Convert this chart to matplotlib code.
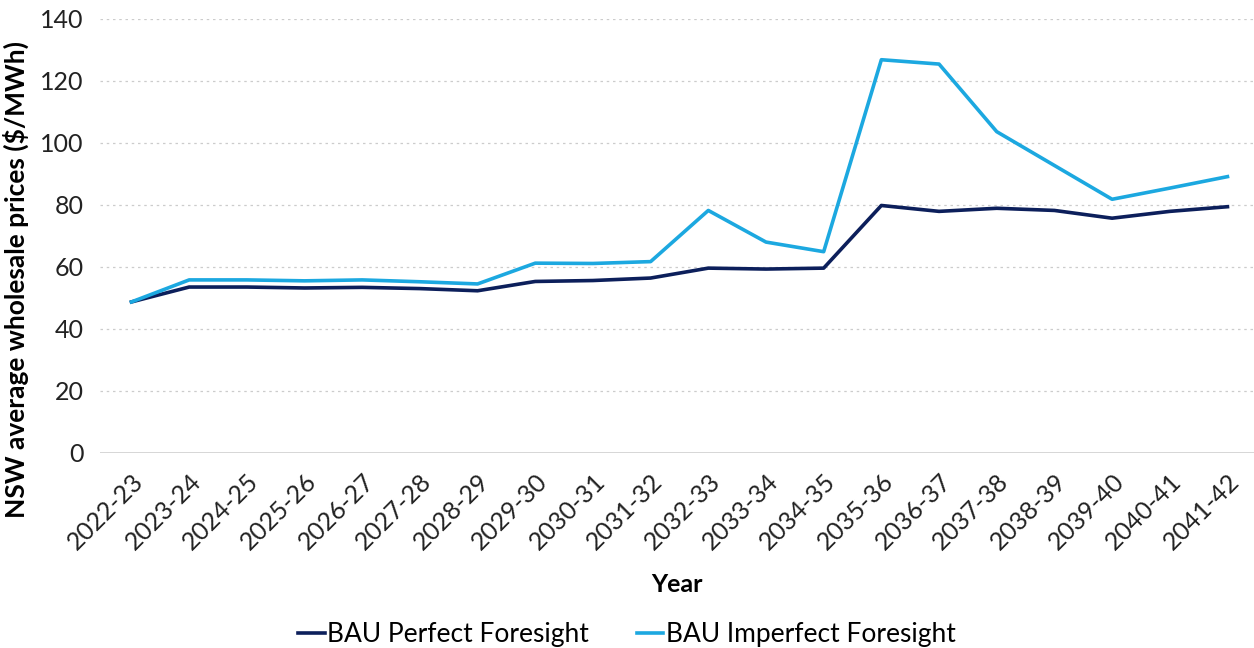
import matplotlib.pyplot as plt
from matplotlib.ticker import MultipleLocator

plt.rcParams['font.family'] = ['Lato', 'DejaVu Sans']

years = ["2022-23", "2023-24", "2024-25", "2025-26", "2026-27", "2027-28", "2028-29",
         "2029-30", "2030-31", "2031-32", "2032-33", "2033-34", "2034-35", "2035-36",
         "2036-37", "2037-38", "2038-39", "2039-40", "2040-41", "2041-42"]
perfect = [48.7, 53.5, 53.5, 53.2, 53.4, 53.0, 52.3, 55.3, 55.6, 56.4, 59.6, 59.3, 59.6,
           79.8, 77.9, 78.9, 78.2, 75.7, 77.9, 79.4]
imperfect = [48.7, 55.8, 55.8, 55.5, 55.8, 55.2, 54.5, 61.2, 61.1, 61.7, 78.2, 68.0, 64.9,
             126.8, 125.4, 103.6, 92.7, 81.8, 85.4, 89.1]

dark = "#0c1f5b"
light = "#1ca8e0"

fig = plt.figure(figsize=(12.54, 6.48), dpi=100)
ax = fig.add_axes([0.08, 0.301, 0.92, 0.670])

x = range(len(years))
ax.plot(x, perfect, color=dark, lw=2.6, label="BAU Perfect Foresight", zorder=3)
ax.plot(x, imperfect, color=light, lw=2.6, label="BAU Imperfect Foresight", zorder=3)

ax.set_ylim(0, 140)
ax.set_xlim(-0.54, 19.46)
ax.yaxis.set_major_locator(MultipleLocator(20))
ax.set_xticks(list(x))
ax.set_xticklabels(years, rotation=45, ha="right", rotation_mode="anchor",
                   fontsize=18, color="#222222")
ax.tick_params(axis="y", labelsize=18, colors="#222222", length=0, pad=12)
ax.tick_params(axis="x", length=0, pad=12)

for v in range(20, 141, 20):
    ax.axhline(v, color="#cccccc", lw=0.9, ls=(0, (2, 3)), zorder=1)
ax.axhline(0, color="#d0d0d0", lw=1.2, zorder=1)

for s in ax.spines.values():
    s.set_visible(False)

ax.set_ylabel("NSW average wholesale prices ($/MWh)", fontsize=19, fontweight="bold",
              color="black")
ax.yaxis.set_label_coords(-0.062, 0.40)
ax.set_xlabel("Year", fontsize=18, fontweight="bold", color="black", labelpad=14)

fig.legend(loc="lower center", bbox_to_anchor=(0.5, -0.035), ncol=2, frameon=False,
           fontsize=19, handlelength=1.0, handletextpad=0.1, columnspacing=1.8)

fig.savefig("out.png", dpi=100)
